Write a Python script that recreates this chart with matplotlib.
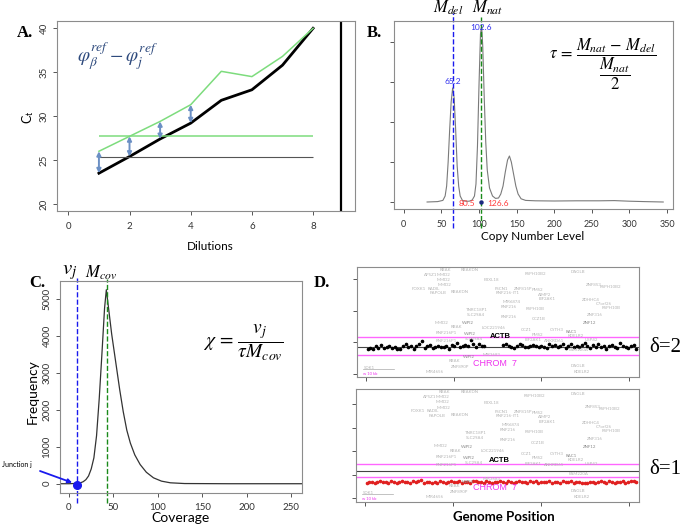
import numpy as np
import matplotlib.pyplot as plt

plt.rcParams['font.family'] = ['Lato', 'DejaVu Sans']
plt.rcParams['mathtext.fontset'] = 'stix'

W, H = 685, 526

# A: Ct values over the dilution series
dilutions = [1, 2, 3, 4, 5, 6, 7, 8]
ct_beta = [23.5, 25.4, 27.4, 29.2, 31.8, 33.0, 35.8, 40.0]
ct_junction = [26.0, 27.7, 29.4, 31.3, 35.1, 34.5, 36.8, 40.0]
ct_ref_beta = 25.4
ct_ref_junction = 27.7
arrow_x = [1, 2, 3, 4]
arrow_low = [23.5, 25.4, 27.4, 29.2]
arrow_high = [26.0, 27.7, 29.4, 31.3]

# B: copy number density
cn_x = [31, 45, 52, 55, 57, 59, 61, 63, 65, 67, 69, 71, 73, 75, 78, 82, 87, 91, 94,
        96, 98, 100, 102, 103.5, 105, 107, 109, 111, 114, 118, 122, 126, 129, 132,
        135, 138, 140.5, 143, 146, 149, 152, 156, 162, 175, 200, 230, 260, 280, 300,
        320, 345]
cn_dens = [0.0, 0.01, 0.04, 0.15, 0.4, 1.0, 1.8, 2.5, 2.85, 2.6, 1.8, 0.9, 0.4, 0.15,
           0.04, 0.02, 0.02, 0.05, 0.15, 0.45, 1.4, 2.9, 4.2, 4.4, 3.9, 2.6, 1.5, 0.8,
           0.35, 0.15, 0.09, 0.1, 0.2, 0.4, 0.75, 1.05, 1.15, 1.0, 0.7, 0.4, 0.2, 0.08,
           0.04, 0.03, 0.025, 0.03, 0.03, 0.035, 0.02, 0.01, 0.0]
m_del = 65.2
m_nat = 102.6
valleys = [80.5, 126.6]

# C: coverage histogram
cov_x = [-10, 0, 5, 10, 13, 16, 19, 22, 25, 28, 31, 34, 37, 40, 42, 44, 46, 48, 51, 54,
         57, 61, 65, 69, 74, 80, 87, 95, 104, 114, 130, 180, 262]
cov_freq = [0, 0, 5, 15, 25, 55, 110, 210, 400, 700, 1300, 2300, 3500, 4750, 5250, 4850,
            4450, 4050, 3550, 3050, 2550, 1950, 1450, 1100, 780, 520, 310, 160, 70, 25,
            5, 0, 0]
v_j = 9
m_cov = 43

# D: probe log ratios around ACTB
top_left = [0.78, 0.82, 0.79, 0.90, 0.81, 0.93, 0.83, 0.84, 0.87, 0.82,
            0.85, 0.80, 0.79, 0.88, 0.95, 0.84, 0.90, 0.79, 0.88, 0.94,
            1.04, 0.82, 0.90, 0.93, 0.82, 0.84, 0.88, 0.85, 0.84, 0.90,
            0.80, 0.91, 0.87, 0.97, 0.85, 0.90, 0.92, 0.88, 1.06, 0.96,
            0.84, 0.94, 0.90, 0.88]
top_right = [0.93, 0.95, 0.89, 0.85, 0.83, 0.90, 0.96, 0.92, 0.86, 0.84,
             0.88, 0.93, 0.89, 0.84, 0.90, 0.86, 0.83, 0.95, 0.88, 0.91,
             0.85, 0.87, 0.94, 0.82, 0.90, 0.96, 0.86, 0.89, 0.84, 0.92,
             0.97, 0.88, 0.83, 0.91, 0.86, 0.94, 0.85, 0.89, 0.80, 0.87,
             0.92, 0.85, 0.83, 0.97, 0.90, 0.86, 0.82, 0.88, 0.93, 0.80]
top_probes = top_left + [np.nan] * 6 + top_right
bottom_probes = [0.66, 0.70, 0.68, 0.64, 0.69, 0.72, 0.67, 0.70, 0.66, 0.71,
                 0.68, 0.65, 0.70, 0.73, 0.67, 0.69, 0.64, 0.71, 0.68, 0.72,
                 0.78, 0.66, 0.70, 0.67, 0.63, 0.69, 0.66, 0.71, 0.68, 0.65,
                 0.70, 0.72, 0.67, 0.69, 0.74, 0.66, 0.70, 0.68, 0.64, 0.71,
                 0.73, 0.67, 0.69, 0.66, 0.72, 0.68, 0.65, 0.70, 0.67, 0.71,
                 0.69, 0.66, 0.72, 0.68, 0.64, 0.70, 0.74, 0.67, 0.69, 0.66,
                 0.71, 0.68, 0.73, 0.65, 0.70, 0.67, 0.69, 0.72, 0.66, 0.70,
                 0.68, 0.64, 0.71, 0.67, 0.69, 0.73, 0.66, 0.70, 0.68, 0.65,
                 0.62, 0.66, 0.70, 0.67, 0.64, 0.69, 0.72, 0.68, 0.66, 0.71,
                 0.67, 0.65, 0.70, 0.68, 0.72, 0.66, 0.69, 0.74, 0.71, 0.67]
top_lines = (1.18, 0.85, 0.60)
bottom_lines = (1.47, 1.156, 0.90)

gene_names = ['RBAK', 'RBAKDN', 'AP5Z1', 'MMD2', 'MMD2', 'MMD2', 'FOXK1', 'RADIL',
              'PAPOLB', 'RBAKDN', 'FBXL18', 'TNRC18P1', 'SLC29A4', 'MMD2', 'RBAK',
              'WIPI2', 'LOC221946', 'RNF216P1', 'RNF216P1', 'WIPI2', 'SLC29A4',
              'WIPI2', 'RBAK', 'ZNF890P', 'MIR4656', 'SDK1', 'MIR3683', 'FSCN1',
              'RNF216-IT1', 'MIR6874', 'RNF216', 'RNF216', 'RSPH10B2', 'DAGLB',
              'ZNF815P', 'PMS2', 'AIMP2', 'EIF2AK1', 'ZNF853', 'RSPH10B2', 'ZDHHC4',
              'C7orf26', 'RSPH10B', 'RSPH10B', 'CCZ1B', 'ZNF316', 'ZNF12', 'CCZ1',
              'PMS2', 'CYTH3', 'RAC1', 'ANKRD61', 'EIF2AK1', 'USP42', 'KDELR2',
              'FAM220A', 'DAGLB', 'KDELR2']
gene_xf = [0.312, 0.40, 0.262, 0.306, 0.305, 0.31, 0.218, 0.272, 0.288, 0.365, 0.478,
           0.424, 0.42, 0.30, 0.352, 0.392, 0.483, 0.318, 0.318, 0.40, 0.415, 0.395,
           0.347, 0.365, 0.277, 0.045, 0.478, 0.513, 0.535, 0.548, 0.537, 0.537,
           0.631, 0.785, 0.59, 0.64, 0.665, 0.675, 0.838, 0.897, 0.83, 0.875, 0.90,
           0.631, 0.643, 0.844, 0.826, 0.60, 0.64, 0.708, 0.761, 0.70, 0.625, 0.83,
           0.775, 0.785, 0.785, 0.797]
gene_yf = [0.975, 0.97, 0.925, 0.93, 0.885, 0.835, 0.804, 0.804, 0.76, 0.77, 0.88,
           0.61, 0.565, 0.495, 0.455, 0.487, 0.447, 0.40, 0.326, 0.39, 0.345, 0.18,
           0.145, 0.088, 0.043, 0.08, 0.20, 0.80, 0.76, 0.68, 0.64, 0.547, 0.94,
           0.955, 0.80, 0.79, 0.75, 0.71, 0.84, 0.82, 0.70, 0.665, 0.625, 0.62, 0.525,
           0.56, 0.487, 0.425, 0.385, 0.426, 0.41, 0.33, 0.335, 0.34, 0.375, 0.245,
           0.10, 0.048]
dark_genes = ['WIPI2', 'RAC1', 'ZNF12']


def add_axes(l, t, r, b):
    return fig.add_axes([l / W, 1 - b / H, (r - l) / W, (b - t) / H])


def ftext(px, py, s, **kw):
    fig.text(px / W, 1 - py / H, s, ha=kw.pop('ha', 'center'), va=kw.pop('va', 'center'), **kw)


def frame(ax):
    for sp in ax.spines.values():
        sp.set_color('#8c8c8c')
        sp.set_linewidth(0.8)
    ax.tick_params(direction='out', length=3, width=0.7, color='#555555', colors='#333333')


fig = plt.figure(figsize=(6.85, 5.26), dpi=100)

# ---- A ----
axA = add_axes(57, 21, 355, 211)
frame(axA)
axA.plot(dilutions, ct_beta, color='black', lw=2)
axA.plot(dilutions, ct_junction, color='#7ddc7d', lw=1.1)
axA.hlines(ct_ref_junction, dilutions[0], dilutions[-1], color='#7ddc7d', lw=1.1)
axA.hlines(ct_ref_beta, dilutions[0], dilutions[-1], color='#555555', lw=0.8)
for x, lo, hi in zip(arrow_x, arrow_low, arrow_high):
    axA.annotate('', xy=(x, hi), xytext=(x, lo),
                 arrowprops=dict(arrowstyle='<|-|>', color='#6b8fc4', lw=1.4,
                                 mutation_scale=6, shrinkA=0, shrinkB=0))
axA.axvline(8.92, color='black', lw=1.6)
axA.set_xlim(-0.37, 9.37)
axA.set_ylim(19.2, 40.83)
axA.set_xticks([0, 2, 4, 6, 8])
axA.set_yticks([20, 25, 30, 35, 40])
axA.tick_params(axis='x', labelsize=7, pad=5)
axA.tick_params(axis='y', labelsize=7, pad=3)
for lab in axA.get_yticklabels():
    lab.set_rotation(90)
    lab.set_va('center')
ftext(117, 57, r'$\varphi_{\beta}^{ref}-\varphi_{j}^{ref}$', fontsize=14, color='#2e4a7d')
ftext(28, 117, r'C$_\mathregular{t}$', fontsize=9, rotation=90)
ftext(210, 247, 'Dilutions', fontsize=8.5)
ftext(25, 33, 'A.', fontsize=12, fontweight='bold', family='Liberation Serif')

# ---- B ----
axB = add_axes(394, 21, 673, 209)
frame(axB)
axB.plot(cn_x, cn_dens, color='#7a7a7a', lw=0.8)
axB.plot([m_del, m_del], [-0.65, 4.725], color='#1a1aee', ls='--', lw=1, clip_on=False)
axB.plot([m_nat, m_nat], [-0.65, 4.625], color='#1a8a1a', ls='--', lw=1, clip_on=False)
axB.plot([m_nat], [0], 'o', color='#1a2a80', ms=2.2)
axB.text(m_del, 3.0, f'{m_del}', color='#3030ee', fontsize=6, ha='center', va='center')
axB.text(m_nat, 4.37, f'{m_nat}', color='#3030ee', fontsize=6, ha='center', va='center')
axB.text(83.5, -0.05, f'{valleys[0]}', color='#ff3b3b', fontsize=6, ha='center', va='center')
axB.text(125.5, -0.05, f'{valleys[1]}', color='#ff3b3b', fontsize=6, ha='center', va='center')
axB.set_xlim(-13, 358)
axB.set_ylim(-0.175, 4.525)
axB.set_xticks([0, 50, 100, 150, 200, 250, 300, 350])
axB.set_yticks([0, 1, 2, 3, 4])
axB.set_yticklabels([])
axB.tick_params(axis='x', labelsize=6.5, pad=5)
ftext(448, 8, r'$M_{del}$', fontsize=12)
ftext(488, 8, r'$M_{nat}$', fontsize=12)
ftext(603, 64, r'$\tau\,=\,\dfrac{M_{nat}\,-\,M_{del}}{\dfrac{M_{nat}}{2}}$', fontsize=12)
ftext(374, 33, 'B.', fontsize=12, fontweight='bold', family='Liberation Serif')
ftext(533, 236, 'Copy Number Level', fontsize=8.5)

# ---- C ----
axC = add_axes(60, 281, 302, 493)
frame(axC)
axC.plot(cov_x, cov_freq, color='#333333', lw=0.9)
axC.plot([v_j, v_j], [-514, 5568], color='#1a1aee', ls='--', lw=1, clip_on=False)
axC.plot([m_cov, m_cov], [-514, 5540], color='#1a8a1a', ls='--', lw=1, clip_on=False)
axC.plot([v_j], [-25], 'o', color='#1a1aee', ms=5.5, clip_on=False)
axC.annotate('', xy=(v_j - 1, -10), xycoords='data',
             xytext=(40 / W, 1 - 471 / H), textcoords='figure fraction',
             arrowprops=dict(arrowstyle='-|>', color='#1a1aee', lw=1.3, mutation_scale=6,
                             shrinkA=0, shrinkB=3))
axC.set_xlim(-10.1, 262)
axC.set_ylim(-251, 5486)
axC.set_xticks([0, 50, 100, 150, 200, 250])
axC.set_yticks([0, 1000, 2000, 3000, 4000, 5000])
axC.tick_params(axis='x', labelsize=7, pad=4)
axC.tick_params(axis='y', labelsize=7, pad=3)
for lab in axC.get_yticklabels():
    lab.set_rotation(90)
    lab.set_va('center')
ftext(2, 465, 'Junction j', fontsize=5, ha='left')
ftext(70, 272, r'$v_j$', fontsize=15)
ftext(101, 273, r'$M_{cov}$', fontsize=12)
ftext(243, 343, r'$\chi\,=\,\dfrac{v_j}{\tau M_{cov}}$', fontsize=14)
ftext(37, 283, 'C.', fontsize=12, fontweight='bold', family='Liberation Serif')
ftext(322, 283, 'D.', fontsize=12, fontweight='bold', family='Liberation Serif')
ftext(33, 392, 'Frequency', fontsize=10, rotation=90)
ftext(180, 518, 'Coverage', fontsize=10)

# ---- D ----
probe_x = np.linspace(2, 308, len(bottom_probes))
axD1 = add_axes(357, 267, 639, 377)
axD2 = add_axes(356, 389, 639, 502)
panels = [(axD1, top_probes, top_lines, 'black', (-0.095, 3.385), [0, 1, 2, 3]),
          (axD2, bottom_probes, bottom_lines, '#e02020', (-0.17, 4.655), [0, 1, 2, 3, 4])]
for ax, vals, lines, col, ylim, yt in panels:
    frame(ax)
    for name, xf, yf in zip(gene_names, gene_xf, gene_yf):
        c = '#8a8a8a' if name in dark_genes else '#b5b5b5'
        ax.text(xf, yf, name, transform=ax.transAxes, fontsize=3.2, color=c,
                ha='center', va='center')
    ax.axhline(lines[0], color='#ff66ff', lw=1)
    ax.axhline(lines[1], color='#444444', lw=0.8)
    ax.axhline(lines[2], color='#ff66ff', lw=1)
    ax.plot(probe_x, vals, 'o', color=col, ms=1.6, ls='none')
    ax.text(0.507, 0.37, 'ACTB', transform=ax.transAxes, fontsize=5.5, fontweight='bold',
            ha='center', va='center', family='Liberation Sans')
    ax.text(0.49, 0.125, 'CHROM  7', transform=ax.transAxes, fontsize=6.5, color='#ee33ee',
            ha='center', va='center', family='Liberation Sans')
    ax.plot([0.02, 0.13], [0.075, 0.075], transform=ax.transAxes, color='#aaaaaa', lw=0.5)
    ax.text(0.02, 0.03, 'w 10 kb', transform=ax.transAxes, fontsize=3, color='#ee33ee',
            ha='left', va='center')
    ax.set_xlim(-10, 311)
    ax.set_ylim(*ylim)
    ax.set_xticks([0, 100, 200, 300])
    ax.set_yticks(yt)
    ax.set_xticklabels([])
    ax.set_yticklabels([])
ftext(665, 347, 'δ=2', fontsize=15, family='Liberation Serif')
ftext(665, 470, 'δ=1', fontsize=15, family='Liberation Serif')
ftext(504, 517, 'Genome Position', fontsize=9.5, fontweight='bold')

fig.savefig('out.png', dpi=100)
